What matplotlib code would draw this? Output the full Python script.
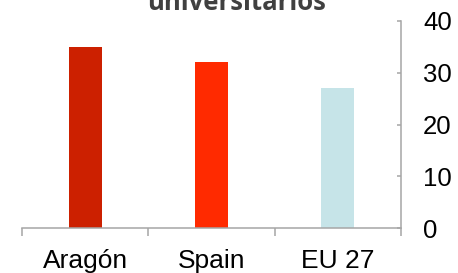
import matplotlib.pyplot as plt
from matplotlib.ticker import FixedLocator

categories = ["Aragón", "Spain", "EU 27"]
values = [35, 32, 27]
colors = ["#CC2000", "#FF2A00", "#C6E4E8"]
yticks = [0, 10, 20, 30, 40]

fig = plt.figure(figsize=(4.58, 2.73), dpi=100)
ax = fig.add_axes([22 / 458, 45 / 273, 379 / 458, 207 / 273])

x = range(len(categories))
ax.bar(x, values, width=0.26, color=colors)

ax.set_xlim(-0.5, 2.5)
ax.set_ylim(0, 40)

ax.spines["left"].set_visible(False)
ax.spines["top"].set_visible(False)
for s in ["bottom", "right"]:
    ax.spines[s].set_color("#A6A6A6")
    ax.spines[s].set_linewidth(1.1)

ax.set_xticks(list(x))
ax.set_xticklabels(categories, fontfamily="Liberation Sans", fontsize=19)
ax.xaxis.set_minor_locator(FixedLocator([-0.5, 0.5, 1.5, 2.5]))
ax.tick_params(axis="x", which="major", length=0, pad=15)
ax.tick_params(axis="x", which="minor", length=6, width=1.1, color="#A6A6A6", direction="out")

ax.yaxis.tick_right()
ax.set_yticks(yticks)
ax.set_yticklabels([str(v) for v in yticks], fontfamily="Liberation Sans", fontsize=18.5)
ax.tick_params(axis="y", length=3, width=1.1, color="#A6A6A6", direction="in", pad=16)

fig.text(237 / 458, 1 - 10 / 273, "universitarios", ha="center", va="baseline",
         fontfamily="Open Sans", fontweight="bold", fontsize=18.5, color="#404040")

fig.savefig("out.png", dpi=100)
